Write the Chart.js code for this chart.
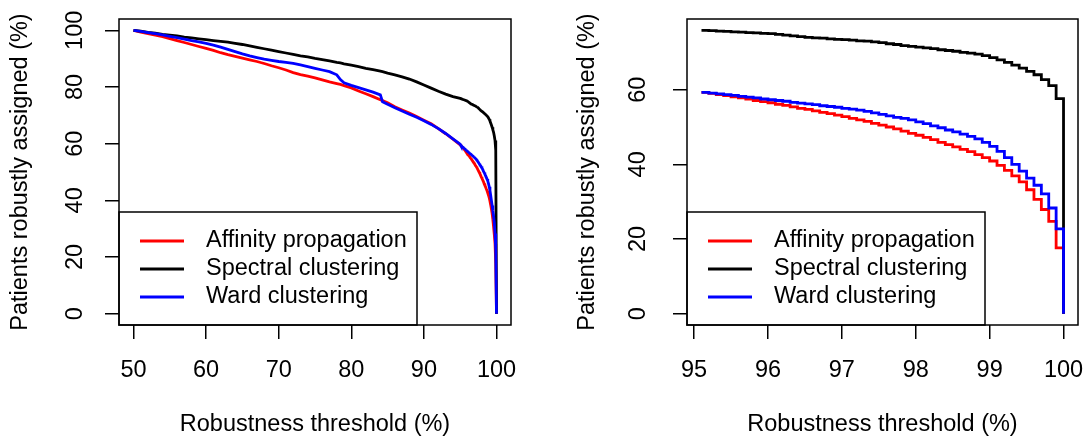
<!DOCTYPE html>
<html lang="en">
<head>
<meta charset="UTF-8">
<title>Patients robustly assigned by robustness threshold</title>
<script src="https://cdn.jsdelivr.net/npm/chart.js"></script>
<style>
  html, body { margin: 0; padding: 0; background: #fff; }
  #wrap { position: relative; width: 1086px; height: 437px; }
  canvas { position: absolute; top: 0; }
  #left { left: 0; }
  #right { left: 543px; }
</style>
</head>
<body>
<div id="wrap">
  <canvas id="left" width="543" height="437"></canvas>
  <canvas id="right" width="543" height="437"></canvas>
</div>
<script>
// series
const seriesNames = ['Affinity propagation', 'Spectral clustering', 'Ward clustering'];
const seriesColors = ['#ff0000', '#000000', '#0000ff'];

// thresholds 50..95
const thrCoarse = [50, 51, 52, 53, 54, 55, 56, 57, 58, 59, 60, 61, 62, 63, 64, 65, 66, 67, 68, 69,
  70, 71, 72, 73, 74, 75, 76, 77, 78, 78.5, 79, 80, 81, 82, 83, 84, 84.3, 85, 86, 87, 88, 89,
  90, 91, 92, 93, 94, 95];
const affinityCoarse = [100, 99.4, 98.8, 98.3, 97.8, 97.1, 96.4, 95.7, 95.0, 94.3, 93.6, 92.9, 92.1, 91.4, 90.8, 90.2, 89.6, 89.0, 88.3, 87.5,
  86.8, 86.0, 85.1, 84.4, 83.8, 83.2, 82.5, 81.8, 81.2, 80.9, 80.5, 79.7, 78.6, 77.6, 76.6, 75.5, 75.2, 74.4, 73.0, 71.9, 70.8, 69.6,
  68.3, 67.0, 65.3, 63.5, 61.6, 59.6];
const spectralCoarse = [100, 99.7, 99.3, 99.0, 98.6, 98.3, 98.0, 97.6, 97.3, 97.0, 96.7, 96.4, 96.1, 95.8, 95.4, 95.0, 94.5, 94.0, 93.5, 93.0,
  92.5, 92.0, 91.5, 91.0, 90.6, 90.1, 89.7, 89.2, 88.7, 88.5, 88.2, 87.7, 87.2, 86.6, 86.1, 85.6, 85.4, 84.9, 84.3, 83.6, 82.8, 81.8,
  80.7, 79.6, 78.5, 77.5, 76.6, 76.0];
const wardCoarse = [100, 99.6, 99.2, 98.8, 98.4, 97.9, 97.4, 96.9, 96.4, 95.9, 95.4, 94.8, 94.1, 93.3, 92.5, 91.7, 91.0, 90.4, 89.8, 89.4,
  89.0, 88.7, 88.3, 87.8, 87.2, 86.6, 86.0, 85.4, 84.3, 82.6, 81.5, 80.6, 79.8, 79.0, 78.2, 77.2, 74.8, 73.9, 72.7, 71.5, 70.4, 69.3,
  68.1, 66.8, 65.3, 63.6, 61.7, 59.8];

// thresholds 95.1..100
const thrFine = [95.1, 95.2, 95.3, 95.4, 95.5, 95.6, 95.7, 95.8, 95.9, 96.0,
  96.1, 96.2, 96.3, 96.4, 96.5, 96.6, 96.7, 96.8, 96.9, 97.0,
  97.1, 97.2, 97.3, 97.4, 97.5, 97.6, 97.7, 97.8, 97.9, 98.0,
  98.1, 98.2, 98.3, 98.4, 98.5, 98.6, 98.7, 98.8, 98.9, 99.0,
  99.1, 99.2, 99.3, 99.4, 99.5, 99.6, 99.7, 99.8, 99.9, 100.0];
const affinityFine = [59.3, 59.0, 58.7, 58.4, 58.1, 57.8, 57.5, 57.1, 56.8, 56.5,
  56.1, 55.8, 55.4, 55.0, 54.7, 54.3, 53.9, 53.6, 53.2, 52.8,
  52.3, 51.9, 51.5, 51.0, 50.5, 50.0, 49.5, 48.9, 48.3, 47.8,
  47.2, 46.6, 45.9, 45.3, 44.7, 44.0, 43.4, 42.6, 41.8, 40.9,
  39.7, 38.4, 36.9, 35.3, 33.2, 30.6, 27.9, 24.7, 17.6, 0];
const spectralFine = [75.9, 75.8, 75.7, 75.6, 75.5, 75.4, 75.3, 75.2, 75.1, 75.0,
  74.8, 74.6, 74.4, 74.2, 74.0, 73.9, 73.8, 73.6, 73.5, 73.4,
  73.3, 73.1, 73.0, 72.8, 72.6, 72.3, 72.1, 71.8, 71.6, 71.4,
  71.2, 71.0, 70.7, 70.5, 70.3, 70.0, 69.8, 69.5, 69.1, 68.6,
  68.0, 67.3, 66.6, 65.8, 64.9, 64.0, 62.7, 61.1, 57.6, 0];
const wardFine = [59.3, 59.1, 58.9, 58.7, 58.5, 58.2, 58.0, 57.8, 57.5, 57.3,
  57.1, 56.9, 56.6, 56.4, 56.2, 56.0, 55.7, 55.5, 55.3, 55.0,
  54.8, 54.5, 54.2, 53.8, 53.4, 53.0, 52.6, 52.3, 51.9, 51.4,
  50.9, 50.3, 49.8, 49.2, 48.7, 48.1, 47.5, 46.8, 45.9, 44.8,
  43.5, 41.8, 40.0, 38.2, 36.3, 34.4, 32.1, 28.3, 22.7, 0];

// tick labels
const xTicksLeft = [50, 60, 70, 80, 90, 100];
const yTicksLeft = [0, 20, 40, 60, 80, 100];
const xTicksRight = [95, 96, 97, 98, 99, 100];
const yTicksRight = [0, 20, 40, 60];

const FONT = '"Liberation Sans", Arial, Helvetica, sans-serif';
const FS = 23.5;
const TICK = 14;
Chart.defaults.font.family = FONT;
Chart.defaults.color = '#000';

// R pads the axis range by 4% on each side
function rRange(lo, hi) {
  const d = (hi - lo) * 0.04;
  return [lo - d, hi + d];
}

// legend in the bottom-left corner, then the plot box on top
const rBox = {
  id: 'rBox',
  afterDatasetsDraw(chart) {
    const { ctx, chartArea: a } = chart;
    const boxW = 298, boxH = 113;
    const x0 = a.left, y0 = a.bottom - boxH;
    ctx.save();
    ctx.fillStyle = '#fff';
    ctx.fillRect(x0, y0, boxW, boxH);
    ctx.strokeStyle = '#000';
    ctx.lineWidth = 1.5;
    ctx.strokeRect(x0, y0, boxW, boxH);
    ctx.font = FS + 'px ' + FONT;
    ctx.textBaseline = 'middle';
    chart.data.datasets.forEach((ds, i) => {
      const y = y0 + 29 + i * 28;
      ctx.strokeStyle = ds.borderColor;
      ctx.lineWidth = 3;
      ctx.beginPath();
      ctx.moveTo(x0 + 21, y);
      ctx.lineTo(x0 + 65, y);
      ctx.stroke();
      ctx.fillStyle = '#000';
      ctx.fillText(ds.label, x0 + 87, y);
    });
    ctx.strokeStyle = '#000';
    ctx.lineWidth = 1.5;
    ctx.strokeRect(a.left, a.top, a.right - a.left, a.bottom - a.top);
    ctx.restore();
  }
};

const meas = document.createElement('canvas').getContext('2d');
meas.font = FS + 'px ' + FONT;

function buildChart(id, p) {
  const xr = rRange(Math.min(...p.x), Math.max(...p.x));
  const yr = rRange(0, Math.max(...p.series.flat()));
  const widest = Math.max(...p.yTicks.map(v => meas.measureText(String(v)).width));
  const yPad = p.plotLeft - TICK - p.yLabelX - widest / 2;
  const noPad = s => { s.paddingLeft = 0; s.paddingRight = 0; s.paddingTop = 0; s.paddingBottom = 0; };

  const datasets = p.series.map((ys, i) => ({
    label: seriesNames[i],
    data: p.x.map((x, j) => ({ x: x, y: ys[j] })),
    borderColor: seriesColors[i],
    backgroundColor: seriesColors[i],
    borderWidth: 2.8,
    pointRadius: 0,
    tension: 0,
    stepped: p.stepped,
    fill: false,
    order: [2, 1, 0][i]
  }));

  return new Chart(document.getElementById(id), {
    type: 'line',
    data: { datasets: datasets },
    options: {
      responsive: false,
      animation: false,
      events: [],
      layout: { padding: { top: 19, right: 543 - p.plotRight, bottom: 0, left: 0 } },
      plugins: { legend: { display: false }, tooltip: { enabled: false } },
      scales: {
        x: {
          type: 'linear', bounds: 'data', min: xr[0], max: xr[1],
          afterBuildTicks: s => { s.ticks = p.xTicks.map(v => ({ value: v })); },
          afterFit: s => { s.height = 437 - 325; noPad(s); },
          grid: { drawOnChartArea: false, drawTicks: true, tickLength: TICK, color: '#000', lineWidth: 1.5 },
          border: { display: false },
          ticks: { autoSkip: false, maxRotation: 0, padding: 20, font: { size: FS, lineHeight: 1 }, callback: v => String(v) },
          title: { display: true, text: 'Robustness threshold (%)', font: { size: FS, lineHeight: 1 }, padding: { top: 0, bottom: 0.5 } }
        },
        y: {
          type: 'linear', bounds: 'data', min: yr[0], max: yr[1],
          afterBuildTicks: s => { s.ticks = p.yTicks.map(v => ({ value: v })); },
          afterFit: s => { s.width = p.plotLeft; noPad(s); },
          grid: { drawOnChartArea: false, drawTicks: true, tickLength: TICK, color: '#000', lineWidth: 1.5 },
          border: { display: false },
          ticks: { autoSkip: false, minRotation: 90, maxRotation: 90, crossAlign: 'center', padding: yPad, font: { size: FS, lineHeight: 1 }, callback: v => String(v) },
          title: { display: true, text: 'Patients robustly assigned (%)', font: { size: FS, lineHeight: 1 }, padding: { top: p.yTitleX - FS / 2, bottom: 0 } }
        }
      }
    },
    plugins: [rBox]
  });
}

buildChart('left', {
  x: thrCoarse.concat(thrFine),
  series: [affinityCoarse.concat(affinityFine), spectralCoarse.concat(spectralFine), wardCoarse.concat(wardFine)],
  xTicks: xTicksLeft, yTicks: yTicksLeft,
  stepped: false,
  plotLeft: 119, plotRight: 511, yLabelX: 76, yTitleX: 21
});

buildChart('right', {
  x: thrFine,
  series: [affinityFine, spectralFine, wardFine],
  xTicks: xTicksRight, yTicks: yTicksRight,
  stepped: true,
  plotLeft: 144, plotRight: 535, yLabelX: 96, yTitleX: 45
});
</script>
</body>
</html>
